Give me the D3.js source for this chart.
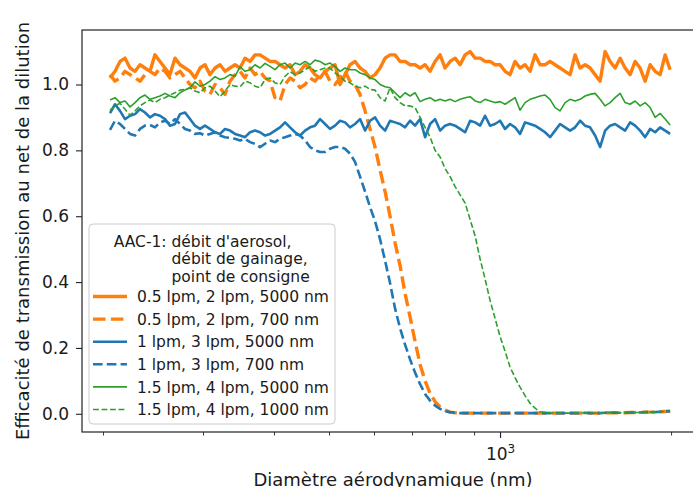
<!DOCTYPE html>
<html><head><meta charset="utf-8">
<script src="https://cdn.jsdelivr.net/npm/d3@7"></script>
<style>
body{margin:0;background:#fff}
svg{display:block}
text{font-family:"DejaVu Sans",sans-serif;fill:#1a1a1a}
</style>
</head><body><svg id="c" width="693" height="487"></svg>
<script>
// ---------- data ----------
const diameters = [
205.8,210.0,214.3,218.7,223.2,227.8,232.4,237.1,242.0,246.9,
252.0,257.2,262.4,267.8,273.3,278.9,284.6,290.4,296.4,302.4,
308.6,315.0,321.4,328.0,334.7,341.6,348.6,355.7,363.0,370.4,
378.0,385.8,393.7,401.7,410.0,418.4,426.9,435.7,444.6,453.7,
463.0,472.4,482.1,492.0,502.0,512.3,522.8,533.5,544.4,555.6,
567.0,578.6,590.4,602.5,614.9,627.5,640.3,653.4,666.8,680.5,
694.4,708.6,723.2,738.0,753.1,768.5,784.3,800.3,816.8,833.5,
850.6,868.0,885.8,903.9,922.4,941.0,960.2,979.9,1000,1020.5,
1041.4,1062.7,1084.5,1106.7,1129.4,1152.5,1176.1,1200.2,1224.8,1249.9,
1275.5,1301.6,1328.3,1355.5,1383.3,1411.6,1440.5,1470.0,1500.1,1530.9,
1562.2,1594.2,1626.9,1660.2,1694.2,1728.9,1764.3,1800.5,1837.4,1875.0,
1913.4,1952.6,1992.6];

const orange_05_2_5000 = [
1.02,1.04,1.07,1.08,1.05,1.04,1.06,1.05,1.04,1.09,
1.07,1.05,1.03,1.08,1.06,1.05,1.04,1.02,1.05,1.06,
1.03,1.05,1.06,1.04,1.05,1.06,1.05,1.08,1.07,1.09,
1.09,1.08,1.07,1.07,1.06,1.05,1.06,1.03,1.04,1.06,
1.05,1.03,1.02,1.04,1.05,1.06,1.00,1.03,1.06,1.07,
1.05,1.04,1.02,1.03,1.05,1.08,1.09,1.09,1.07,1.07,
1.06,1.06,1.05,1.06,1.04,1.07,1.09,1.05,1.07,1.08,
1.06,1.09,1.10,1.08,1.08,1.07,1.07,1.06,1.06,1.04,
1.03,1.07,1.05,1.06,1.04,1.09,1.06,1.06,1.07,1.06,
1.05,1.04,1.03,1.09,1.05,1.06,1.05,1.03,1.01,1.10,
1.07,1.05,1.08,1.05,1.03,1.07,1.05,1.01,1.06,1.04,
1.03,1.09,1.045];

const orange_05_2_700 = [
1.03,1.01,1.02,1.04,1.03,1.02,1.01,1.03,1.04,1.03,
1.05,1.04,1.02,1.03,1.04,1.02,1.00,0.99,1.01,0.98,
0.97,1.00,0.99,0.97,1.01,1.03,1.04,1.02,1.05,1.03,
1.04,1.02,1.01,0.96,0.95,1.00,1.02,1.01,0.99,1.00,
1.02,1.01,1.03,1.04,1.01,1.00,1.02,1.04,1.01,1.00,
0.97,0.92,0.865,0.81,0.74,0.675,0.60,0.52,0.45,0.365,
0.294,0.22,0.15,0.10,0.062,0.037,0.021,0.011,0.005,0.003,
0.002,0.002,0.002,0.002,0.002,0.002,0.002,0.002,0.002,0.002,
0.002,0.002,0.002,0.002,0.002,0.002,0.002,0.002,0.002,0.002,
0.002,0.002,0.002,0.002,0.002,0.003,0.002,0.002,0.002,0.003,
0.003,0.003,0.003,0.003,0.004,0.004,0.004,0.005,0.005,0.005,
0.006,0.007,0.008];

const blue_1_3_5000 = [
0.913,0.94,0.92,0.895,0.905,0.91,0.925,0.915,0.90,0.91,
0.905,0.895,0.875,0.88,0.91,0.915,0.895,0.875,0.865,0.875,
0.865,0.855,0.85,0.865,0.86,0.85,0.845,0.84,0.855,0.86,
0.855,0.845,0.85,0.86,0.87,0.885,0.87,0.855,0.845,0.86,
0.87,0.875,0.895,0.88,0.865,0.875,0.89,0.885,0.87,0.88,
0.895,0.86,0.89,0.90,0.875,0.86,0.89,0.885,0.88,0.87,
0.89,0.875,0.895,0.84,0.88,0.895,0.86,0.875,0.88,0.875,
0.865,0.855,0.89,0.885,0.875,0.905,0.875,0.88,0.89,0.865,
0.88,0.87,0.85,0.885,0.88,0.875,0.865,0.855,0.84,0.86,
0.88,0.87,0.86,0.87,0.89,0.875,0.87,0.845,0.81,0.86,
0.875,0.88,0.87,0.86,0.885,0.875,0.86,0.84,0.865,0.855,
0.87,0.86,0.85];

const blue_1_3_700 = [
0.862,0.89,0.88,0.865,0.85,0.845,0.865,0.875,0.877,0.87,
0.885,0.89,0.88,0.895,0.88,0.865,0.86,0.85,0.852,0.845,
0.85,0.855,0.845,0.84,0.838,0.835,0.83,0.835,0.825,0.82,
0.81,0.82,0.83,0.825,0.835,0.84,0.845,0.85,0.845,0.83,
0.81,0.80,0.795,0.795,0.805,0.81,0.81,0.805,0.79,0.765,
0.72,0.675,0.628,0.585,0.53,0.465,0.397,0.32,0.26,0.21,
0.165,0.125,0.09,0.06,0.04,0.025,0.015,0.008,0.005,0.003,
0.002,0.002,0.002,0.002,0.002,0.002,0.002,0.002,0.002,0.002,
0.002,0.002,0.002,0.002,0.002,0.002,0.002,0.002,0.002,0.002,
0.002,0.002,0.002,0.002,0.002,0.003,0.002,0.002,0.002,0.003,
0.003,0.003,0.003,0.003,0.004,0.004,0.004,0.005,0.005,0.005,
0.006,0.007,0.008];

const green_15_4_5000 = [
0.953,0.96,0.945,0.95,0.932,0.945,0.96,0.968,0.955,0.96,
0.965,0.973,0.965,0.96,0.975,0.983,0.99,1.008,0.995,1.0,
1.01,1.024,1.015,1.02,1.03,1.025,1.054,1.04,1.045,1.06,
1.05,1.064,1.055,1.045,1.06,1.065,1.05,1.065,1.06,1.07,
1.06,1.074,1.07,1.06,1.065,1.055,1.04,1.05,1.045,1.045,
1.035,1.03,1.02,1.015,1.0,0.993,0.99,0.975,0.96,0.975,
0.965,0.975,0.948,0.955,0.96,0.95,0.955,0.95,0.955,0.948,
0.955,0.96,0.963,0.95,0.945,0.955,0.95,0.945,0.948,0.94,
0.95,0.96,0.922,0.945,0.955,0.96,0.965,0.968,0.955,0.93,
0.92,0.945,0.955,0.95,0.955,0.965,0.97,0.973,0.955,0.935,
0.945,0.96,0.973,0.945,0.94,0.95,0.935,0.945,0.93,0.90,
0.912,0.895,0.877];

const green_15_4_1000 = [
0.922,0.935,0.943,0.925,0.907,0.92,0.935,0.945,0.953,0.945,
0.955,0.96,0.968,0.975,0.983,0.985,0.99,0.98,0.975,0.99,
0.995,0.98,0.963,0.98,1.0,0.995,0.993,1.01,1.005,0.995,
0.99,1.015,1.02,1.005,1.0,1.025,1.039,1.03,1.035,1.045,
1.054,1.04,1.045,1.05,1.05,1.035,1.024,1.01,1.005,0.995,
0.99,0.995,0.985,0.983,0.96,0.95,0.99,0.96,0.945,0.935,
0.935,0.93,0.90,0.87,0.84,0.80,0.78,0.745,0.72,0.69,
0.665,0.64,0.59,0.54,0.47,0.41,0.345,0.29,0.235,0.19,
0.142,0.11,0.081,0.055,0.032,0.017,0.006,0.004,0.003,0.002,
0.002,0.002,0.002,0.002,0.002,0.003,0.002,0.002,0.002,0.003,
0.003,0.003,0.003,0.003,0.004,0.004,0.004,0.005,0.005,0.005,
0.006,0.007,0.008];

const seriesLabels = [
  "0.5 lpm, 2 lpm, 5000 nm",
  "0.5 lpm, 2 lpm, 700 nm",
  "1 lpm, 3 lpm, 5000 nm",
  "1 lpm, 3 lpm, 700 nm",
  "1.5 lpm, 4 lpm, 5000 nm",
  "1.5 lpm, 4 lpm, 1000 nm"
];
const seriesValues = [orange_05_2_5000, orange_05_2_700, blue_1_3_5000, blue_1_3_700, green_15_4_5000, green_15_4_1000];
const legendTitle = ["AAC-1: débit d'aerosol,", "débit de gainage,", "point de consigne"];
const yTicks = [0.0, 0.2, 0.4, 0.6, 0.8, 1.0];
const xMajorTicks = [1000];
const xMinorTicks = [200, 300, 400, 500, 600, 700, 800, 900, 2000];
const xLabel = "Diamètre aérodynamique (nm)";
const yLabel = "Efficacité de transmission au net de la dilution";

// ---------- styles ----------
const styles = [
  {color:"#ff7f0e", w:3.4, dash:null},
  {color:"#ff7f0e", w:3.4, dash:"12.5,5.4"},
  {color:"#1f77b4", w:2.6, dash:null},
  {color:"#1f77b4", w:2.6, dash:"9.6,4.2"},
  {color:"#2ca02c", w:1.6, dash:null},
  {color:"#2ca02c", w:1.6, dash:"5.9,2.6"}
];

const svg = d3.select("#c");
const L = 82, R = 700, T = 30, B = 432;
const x = d3.scaleLog().domain([183.7, 2249]).range([L, R]);
const y = d3.scaleLinear().domain([-0.0553, 1.1655]).range([B, T]);

// lines
const line = d3.line().x(d => x(d[0])).y(d => y(d[1]));
seriesValues.forEach((vals, i) => {
  const pts = diameters.map((d, j) => [d, vals[j]]);
  const p = svg.append("path").datum(pts)
    .attr("d", line)
    .attr("fill", "none")
    .attr("stroke", styles[i].color)
    .attr("stroke-width", styles[i].w)
    .attr("stroke-linejoin", "round");
  if (styles[i].dash) p.attr("stroke-dasharray", styles[i].dash);
});

// frame
svg.append("rect").attr("x", L).attr("y", T).attr("width", R - L).attr("height", B - T)
  .attr("fill", "none").attr("stroke", "#222").attr("stroke-width", 1.2);

// y axis
const yAxis = svg.append("g").attr("transform", `translate(${L},0)`)
  .call(d3.axisLeft(y).tickValues(yTicks).tickSize(6).tickPadding(7).tickFormat(d3.format(".1f")));
yAxis.select(".domain").remove();
yAxis.selectAll("line").attr("stroke", "#222").attr("stroke-width", 1.1);
yAxis.selectAll("text").attr("font-size", 17).attr("font-family", "DejaVu Sans").attr("fill", "#1a1a1a");

// x axis minor
const xMin = svg.append("g").attr("transform", `translate(0,${B})`)
  .call(d3.axisBottom(x).tickValues(xMinorTicks).tickSize(3.5).tickFormat(""));
xMin.select(".domain").remove();
xMin.selectAll("line").attr("stroke", "#222").attr("stroke-width", 0.9);
// x axis major
const xMaj = svg.append("g").attr("transform", `translate(0,${B})`)
  .call(d3.axisBottom(x).tickValues(xMajorTicks).tickSize(6).tickFormat(""));
xMaj.select(".domain").remove();
xMaj.selectAll("line").attr("stroke", "#222").attr("stroke-width", 1.1);
xMajorTicks.forEach(v => {
  const t = svg.append("text").attr("x", x(v) + 0.5).attr("y", 460)
    .attr("text-anchor", "middle").attr("font-size", 17);
  t.append("tspan").text("10");
  t.append("tspan").attr("font-size", 12).attr("dy", -7).text(String(Math.round(Math.log10(v))));
});

// axis labels
svg.append("text").attr("x", (L + R) / 2 + 2).attr("y", 485.5).attr("text-anchor", "middle")
  .attr("font-size", 18).text(xLabel);
svg.append("text").attr("transform", `translate(28.5,${(T + B) / 2}) rotate(-90)`)
  .attr("text-anchor", "middle").attr("font-size", 18).text(yLabel);

// legend
const lg = svg.append("g");
lg.append("rect").attr("x", 89).attr("y", 224).attr("width", 246).attr("height", 200)
  .attr("rx", 4).attr("fill", "#fff").attr("fill-opacity", 0.8)
  .attr("stroke", "#cccccc").attr("stroke-width", 1);
const titleX = [113.7, 171.5, 171.5];
const titleY = [246.5, 264, 281.5];
legendTitle.forEach((s, i) => {
  lg.append("text").attr("x", titleX[i]).attr("y", titleY[i]).attr("font-size", 15.5).text(s);
});
seriesLabels.forEach((s, i) => {
  const cy = 296.5 + i * 22.6;
  const l = lg.append("line").attr("x1", 93).attr("x2", 127).attr("y1", cy).attr("y2", cy)
    .attr("stroke", styles[i].color).attr("stroke-width", styles[i].w);
  if (styles[i].dash) l.attr("stroke-dasharray", styles[i].dash);
  lg.append("text").attr("x", 137).attr("y", cy + 5.6).attr("font-size", 15.5).text(s);
});
</script>
</body></html>
